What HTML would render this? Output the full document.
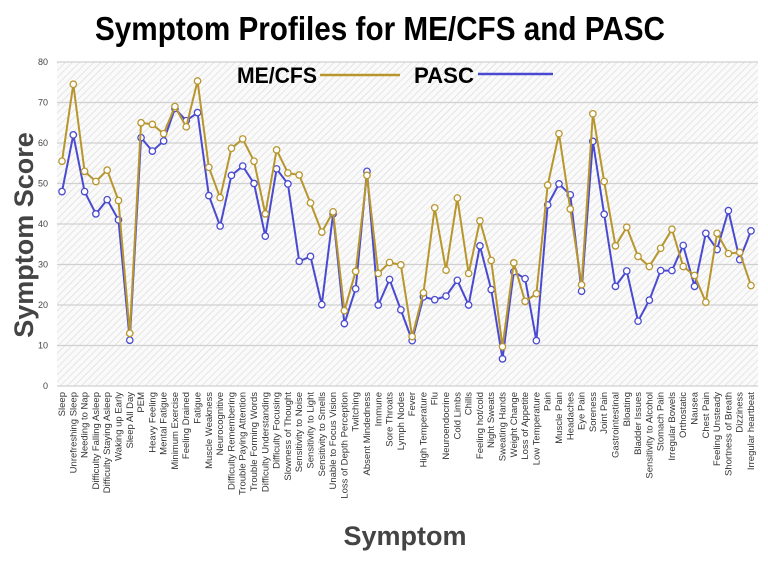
<!DOCTYPE html>
<html><head><meta charset="utf-8"><style>
body{margin:0;background:#fff;width:768px;height:560px;overflow:hidden;font-family:"Liberation Sans",sans-serif}
</style></head><body>
<svg id="chart" width="768" height="560" xmlns="http://www.w3.org/2000/svg">
<defs><pattern id="hatch" width="5" height="5" patternUnits="userSpaceOnUse" patternTransform="rotate(45)"><rect width="5" height="5" fill="#fafafa"/><line x1="0" y1="0" x2="0" y2="5" stroke="#d8d8d8" stroke-width="1.2"/></pattern></defs>
<text x="95" y="40" textLength="570" lengthAdjust="spacingAndGlyphs" font-size="33" font-weight="bold" fill="#000">Symptom Profiles for ME/CFS and PASC</text>
<text transform="translate(33,235) rotate(-90)" text-anchor="middle" font-size="27" font-weight="bold" fill="#444">Symptom Score</text>
<text x="405" y="545" text-anchor="middle" font-size="27" font-weight="bold" fill="#444">Symptom</text>
<g id="plot"></g>
<g>
<text x="237" y="83" textLength="80" lengthAdjust="spacingAndGlyphs" font-size="22" font-weight="bold" fill="#000">ME/CFS</text>
<line x1="320" y1="75" x2="400" y2="75" stroke="#b8962e" stroke-width="2.5"/>
<text x="414" y="83" textLength="60" lengthAdjust="spacingAndGlyphs" font-size="22" font-weight="bold" fill="#000">PASC</text>
<line x1="478" y1="74" x2="553" y2="74" stroke="#4a4ad0" stroke-width="2.5"/>
</g>
</svg>
<script>
const categories=["Sleep","Unrefreshing Sleep","Needing to Nap","Difficulty Falling Asleep","Difficulty Staying Asleep","Waking up Early","Sleep All Day","PEM","Heavy Feeling","Mental Fatigue","Minimum Exercise","Feeling Drained","Fatigue","Muscle Weakness","Neurocognitive","Difficulty Remembering","Trouble Paying Attention","Trouble Forming Words","Difficulty Understanding","Difficulty Focusing","Slowness of Thought","Sensitivity to Noise","Sensitivity to Light","Sensitivity to Smells","Unable to Focus Vision","Loss of Depth Perception","Twitching","Absent Mindedness","Immune","Sore Throats","Lymph Nodes","Fever","High Temperature","Flu","Neuroendocrine","Cold Limbs","Chills","Feeling hot/cold","Night Sweats","Sweating Hands","Weight Change","Loss of Appetite","Low Temperature","Pain","Muscle Pain","Headaches","Eye Pain","Soreness","Joint Pain","Gastrointestinal","Bloating","Bladder Issues","Sensitivity to Alcohol","Stomach Pain","Irregular Bowels","Orthostatic","Nausea","Chest Pain","Feeling Unsteady","Shortness of Breath","Dizziness","Irregular heartbeat"];
const mecfs=[55.5,74.5,53,50.5,53.3,45.8,13,65,64.6,62.3,69,64,75.3,54,46.5,58.7,61,55.5,42.5,58.3,52.6,52.1,45.2,38,43,18.6,28.3,52,27.8,30.5,29.9,12.2,23,44,28.6,46.4,27.8,40.8,31,9.7,30.4,20.9,22.8,49.6,62.3,43.7,25,67.2,50.5,34.6,39.2,32,29.5,34,38.7,29.5,27.3,20.7,37.7,32.7,33,24.8];
const pasc=[48,62,48,42.5,46,41,11.3,61.3,58,60.5,68.5,65.5,67.5,47,39.5,52,54.3,50,37,53.6,49.9,30.8,32,20.1,42.5,15.4,24,53,20,26.3,18.8,11.2,22,21.3,22.2,26.1,20,34.6,23.8,6.7,28.2,26.5,11.2,44.7,49.9,47.2,23.4,60.4,42.4,24.6,28.4,16,21.2,28.5,28.5,34.7,24.6,37.7,33.7,43.3,31.2,38.3];
const yTicks=[0,10,20,30,40,50,60,70,80];
const NS="http://www.w3.org/2000/svg";
const L=57,R=758,T=62,B=386,x0=62,x1=751;
const xs=i=>x0+i*(x1-x0)/(categories.length-1);
const ys=v=>B-(v/80)*(B-T);
const g=document.getElementById('plot');
function mk(t,a){const e=document.createElementNS(NS,t);for(const k in a)e.setAttribute(k,a[k]);g.appendChild(e);return e;}
const bg=mk('rect',{x:L,y:T,width:R-L,height:B-T,fill:'url(#hatch)'});


yTicks.forEach(v=>{
 const l=mk('line',{x1:L,x2:R,y1:ys(v),y2:ys(v),stroke:'#d0d0d0','stroke-width':1.3});
 
 
 const t=mk('text',{x:48,y:ys(v)+3,'text-anchor':'end','font-size':9,fill:'#444'});
 t.textContent=v;
 
 
});
categories.forEach((c,i)=>{
 const t=mk('text',{transform:`translate(${xs(i)+3},392) rotate(-90)`,'text-anchor':'end','font-size':9.5,fill:'#333'});
 t.textContent=c;
 
 
});
function series(arr,color,name){
 const p=mk('polyline',{points:arr.map((v,i)=>xs(i)+','+ys(v)).join(' '),fill:'none',stroke:color,'stroke-width':2});
 
 
 arr.forEach((v,i)=>{
  const c=mk('circle',{cx:xs(i),cy:ys(v),r:3.2,fill:'#fff',stroke:color,'stroke-width':1.3});
  
  
 });
}
series(pasc,'#4a4ad0','pasc');
series(mecfs,'#b8962e','mecfs');
</script>
</body></html>
